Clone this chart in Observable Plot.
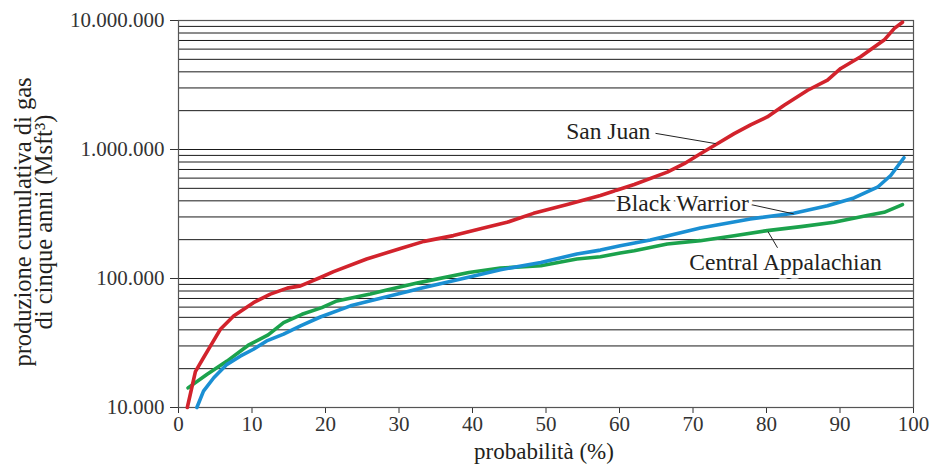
<!DOCTYPE html>
<html>
<head>
<meta charset="utf-8">
<script src="https://cdn.jsdelivr.net/npm/d3@7"></script>
<script src="https://cdn.jsdelivr.net/npm/@observablehq/plot@0.6"></script>
<style>
  html, body { margin: 0; padding: 0; background: #fff; }
  #chart { width: 930px; height: 464px; }
</style>
</head>
<body>
<div id="chart"></div>
<script>
// ---- data ----
const sanJuanX = [1.2, 2.3, 3.4, 4.5, 5.7, 7.5, 10.2, 12.5, 14.8, 16.6, 19.3, 21.1, 25.6, 30.2, 33.4, 37.4, 41.5, 44.7, 48.3, 52.9, 57.4, 62.0, 66.5, 68.8, 71.0, 73.3, 75.6, 77.9, 80.1, 82.4, 85.6, 88.3, 90.1, 92.8, 96.0, 97.4, 98.5];
const sanJuanY = [10000, 19000, 24300, 31000, 40400, 51300, 65000, 75700, 84200, 87700, 101800, 113000, 141600, 171000, 194000, 215000, 246600, 272600, 320000, 374000, 440000, 535000, 667000, 776000, 927000, 1109000, 1327000, 1560000, 1787000, 2200000, 2880000, 3450000, 4250000, 5230000, 7050000, 8690000, 9700000];

const blackWarriorX = [2.5, 3.4, 4.8, 6.6, 8.4, 10.2, 12.0, 14.3, 16.6, 19.3, 23.4, 27.9, 33.4, 39.3, 43.8, 49.3, 54.2, 57.4, 60.1, 64.2, 71.0, 77.8, 83.7, 88.3, 91.9, 95.1, 96.9, 98.7];
const blackWarriorY = [10000, 13400, 17000, 21600, 25000, 28300, 32800, 37000, 42900, 50300, 61400, 71100, 85100, 101900, 117000, 133100, 154800, 166000, 179500, 199000, 246600, 289700, 320000, 367000, 421500, 510000, 629000, 863000];

const centralAppX = [1.3, 3.9, 6.6, 9.5, 12.2, 14.3, 16.8, 19.5, 21.4, 26.1, 28.2, 32.6, 39.5, 43.8, 49.3, 54.2, 57.4, 60.1, 62.0, 66.5, 71.0, 75.6, 80.1, 84.7, 89.2, 93.7, 96.0, 98.5];
const centralAppY = [14200, 18100, 22900, 30400, 36500, 45500, 52800, 59500, 66600, 75700, 81000, 92500, 111400, 120500, 125600, 141600, 147500, 157500, 164000, 185300, 196500, 214800, 235000, 252400, 272500, 307300, 326000, 374000];

const seriesNames = ["San Juan", "Black Warrior", "Central Appalachian"];
const seriesColors = ["#d2232c", "#1a8fd3", "#1ba24c"];

// labels and leader lines
const labelX = [64.2, 77.6, 69.5];
const labelY = [1391000, 380000, 132000];
const labelAnchor = ["end", "end", "start"];
const leaderX1 = [64.9, 77.8, 80.2];
const leaderY1 = [1334000, 375000, 231000];
const leaderX2 = [73.1, 83.7, 81.5];
const leaderY2 = [1110000, 317000, 173000];

// axes
const xTicks = [0, 10, 20, 30, 40, 50, 60, 70, 80, 90, 100];
const yTicks = [10000, 100000, 1000000, 10000000];
const yTickLabels = ["10.000", "100.000", "1.000.000", "10.000.000"];
const yGrid = [10000, 20000, 30000, 40000, 50000, 60000, 70000, 80000, 90000,
  100000, 200000, 300000, 400000, 500000, 600000, 700000, 800000, 900000,
  1000000, 2000000, 3000000, 4000000, 5000000, 6000000, 7000000, 8000000, 9000000, 10000000];
const xTitle = "probabilità (%)";
const yTitle = "produzione cumulativa di gas\ndi cinque anni (Msft³)";

// ---- build tables ----
const toRows = (xs, ys) => xs.map((x, i) => ({x, y: ys[i]}));
const series = [
  toRows(centralAppX, centralAppY),
  toRows(blackWarriorX, blackWarriorY),
  toRows(sanJuanX, sanJuanY)
];
const seriesColorOrder = [seriesColors[2], seriesColors[1], seriesColors[0]];
const labels = seriesNames.map((name, i) => ({
  name, x: labelX[i], y: labelY[i], anchor: labelAnchor[i],
  x1: leaderX1[i], y1: leaderY1[i], x2: leaderX2[i], y2: leaderY2[i]
}));

const font = "'Liberation Serif', 'Times New Roman', serif";
const textColor = "#231f20";

const chart = Plot.plot({
  width: 930,
  height: 464,
  marginLeft: 178,
  marginRight: 17,
  marginTop: 20,
  marginBottom: 57,
  style: {fontFamily: font, fontSize: "21px", color: "#333", background: "#fff", overflow: "visible"},
  x: {domain: [0, 100], ticks: xTicks, tickSize: 6, tickPadding: 3, label: null},
  y: {type: "log", domain: [10000, 10000000], ticks: yTicks,
      tickFormat: d => yTickLabels[yTicks.indexOf(d)], tickSize: 8, tickPadding: 6, label: null},
  marks: [
    Plot.ruleY(yGrid, {stroke: "#1a1a1a", strokeWidth: 1}),
    Plot.frame({stroke: "#555", strokeWidth: 1.2}),
    ...series.map((rows, i) => Plot.line(rows, {x: "x", y: "y", stroke: seriesColorOrder[i], strokeWidth: 3.6, strokeLinejoin: "round", strokeLinecap: "round"})),
    Plot.link(labels, {x1: "x1", y1: "y1", x2: "x2", y2: "y2", stroke: "#222", strokeWidth: 1}),
    Plot.text(labels.filter(d => d.anchor === "end"), {x: "x", y: "y", text: "name", textAnchor: "end", lineAnchor: "middle", fontSize: 23.5, fill: textColor, stroke: "#fff", strokeWidth: 7, strokeLinejoin: "round", paintOrder: "stroke"}),
    Plot.text(labels.filter(d => d.anchor === "start"), {x: "x", y: "y", text: "name", textAnchor: "start", lineAnchor: "middle", fontSize: 23.5, fill: textColor, stroke: "#fff", strokeWidth: 7, strokeLinejoin: "round", paintOrder: "stroke"}),
    Plot.text([xTitle], {frameAnchor: "bottom", text: d => d, textAnchor: "middle", lineAnchor: "middle", dy: 44.5, dx: -2, fontSize: 23, fill: textColor}),
    Plot.text([yTitle], {frameAnchor: "left", text: d => d, textAnchor: "middle", lineAnchor: "middle", rotate: -90, dx: -144, dy: 8, fontSize: 24.5, lineHeight: 0.85, fill: textColor})
  ]
});
document.getElementById("chart").appendChild(chart);
</script>
</body>
</html>
